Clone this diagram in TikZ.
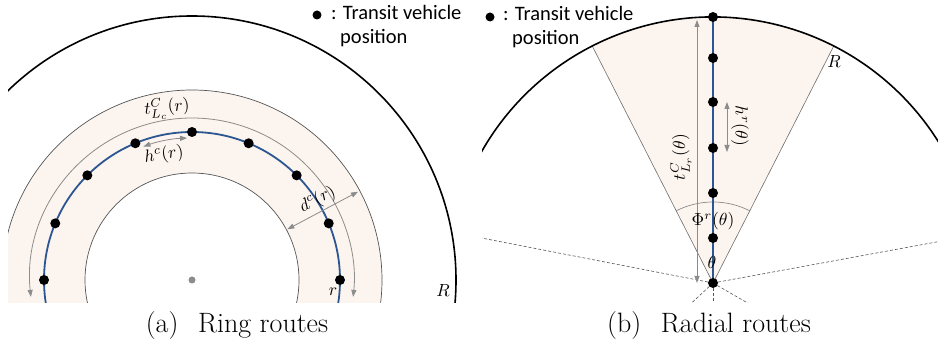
\documentclass[tikz,border=0pt]{standalone}
\usepackage{fontspec}
\newfontfamily\legfont{Carlito}
\usetikzlibrary{arrows.meta}
\definecolor{peach}{RGB}{252,244,238}
\definecolor{routeblue}{RGB}{44,86,146}
\definecolor{arrgray}{RGB}{140,140,140}
\definecolor{ringgray}{RGB}{85,85,85}
\definecolor{edgegray}{RGB}{110,110,110}
\tikzset{
  vdot/.style={circle,fill=black,inner sep=0pt,minimum size=10pt},
  cdot/.style={circle,fill=arrgray,inner sep=0pt,minimum size=7pt},
  ldot/.style={circle,fill=black,inner sep=0pt,minimum size=9pt},
  garrow/.style={arrgray,line width=0.8pt,{Triangle[length=7pt,width=5pt]}-{Triangle[length=7pt,width=5pt]}},
  ringline/.style={ringgray,line width=0.7pt},
  edgeline/.style={edgegray,line width=0.6pt},
  bigarc/.style={black,line width=1.6pt},
  route/.style={routeblue,line width=1.8pt},
  dashline/.style={ringgray,line width=0.6pt,dash pattern=on 3pt off 2pt},
  lab/.style={inner sep=0.6pt,scale=1.75,transform shape},
  leg/.style={font=\legfont\fontsize{20.5}{24}\selectfont,inner sep=0pt,anchor=base west},
  captext/.style={font=\fontsize{28}{32}\selectfont,inner sep=0pt,anchor=base}
}
\begin{document}
\begin{tikzpicture}[x=1pt,y=1pt]
\useasboundingbox (0,0) rectangle (938,342);
% ---------------- panel (a) ----------------
\coordinate (Ca) at (192,62);
\begin{scope}
  \clip (8,39) rectangle (466,342);
  \fill[peach,even odd rule] (Ca) circle[radius=190] (Ca) circle[radius=107];
  \draw[ringline] (Ca) circle[radius=190];
  \draw[ringline] (Ca) circle[radius=107];
  \draw[bigarc] (Ca) circle[radius=264];
  \draw[route] (Ca) circle[radius=148];
  \draw[garrow] ([shift={(186:162)}]Ca) arc[start angle=186,end angle=-6,radius=162];
  \draw[garrow] ([shift={(110:142)}]Ca) arc[start angle=110,end angle=92,radius=142];
  \draw[garrow] ([shift={(28:108)}]Ca) -- ([shift={(28:188)}]Ca);
  \node[cdot] (ctr) at (Ca) {};
  \foreach \i/\a in {0/0,1/22.5,2/45,3/67.5,4/90,5/112.5,6/135,7/157.5,8/180}
    \node[vdot] (ra\i) at ([shift={(\a:148)}]Ca) {};
\end{scope}
\node[rotate=5,lab] (tlab) at (167,234) {$t^{C}_{L_c}(r)$};
\node[rotate=8,lab] (hlab) at (164,187) {$h^{c}(r)$};
\node[rotate=28,lab] (dlab) at ([shift={(32.5:149)}]Ca) {$d^{c}(r)$};
\node[lab] (rlab) at (333,50) {$r$};
\node[lab] (Rlab) at (443,51) {$R$};
\node[ldot] (lda) at (317,327) {};
\node[leg] (lega) at (331,322) {: Transit vehicle};
\node[leg] (legpa) at (340,298) {position};
\node[captext] (capa) at (237,9) {(a)\hspace{0.7em}Ring routes};
% ---------------- panel (b) ----------------
\coordinate (A) at (713,59);
\begin{scope}
  \clip (482,39) rectangle (938,342);
  \fill[peach] (A) -- ([shift={(63:266)}]A) arc[start angle=63,end angle=117,radius=266] -- cycle;
  \draw[edgeline] ([shift={(117:266)}]A) -- (A) -- ([shift={(63:266)}]A);
  \foreach \a in {169,10.4,223,270,330}
    \draw[dashline] (A) -- ++(\a:300);
  \draw[bigarc] ([shift={(165:266)}]A) arc[start angle=165,end angle=15,radius=266];
  \draw[arrgray,line width=0.7pt] ([shift={(63:81)}]A) arc[start angle=63,end angle=117,radius=81];
  \coordinate (ttop) at (697,322);
  \coordinate (tbot) at (697,59);
  \draw[garrow] (ttop) -- (tbot);
  \coordinate (htop) at (727,240);
  \coordinate (hbot) at (727,190);
  \draw[garrow] (htop) -- (hbot);
  \draw[route] (A) -- ++(90:266);
  \foreach \i/\y in {0/325,1/284,2/240,3/194,4/149,5/104,6/59}
    \node[vdot] (rb\i) at (713,\y) {};
\end{scope}
\node[rotate=90,lab] (tlabb) at (681,185) {$t^{C}_{L_r}(\theta)$};
\node[rotate=-90,lab] (hlabb) at (740,216) {$h^{r}(\theta)$};
\node[lab] (philab) at (713,121) {$\Phi^{r}(\theta)$};
\node[lab] (thlab) at (712,80) {$\theta$};
\node[lab] (Rlabb) at (834,280) {$R$};
\node[ldot] (ldb) at (490,325) {};
\node[leg] (legb) at (503,321) {: Transit vehicle};
\node[leg] (legpb) at (512,297) {position};
\node[captext] (capb) at (709,9) {(b)\hspace{0.7em}Radial routes};
\end{tikzpicture}
\end{document}
